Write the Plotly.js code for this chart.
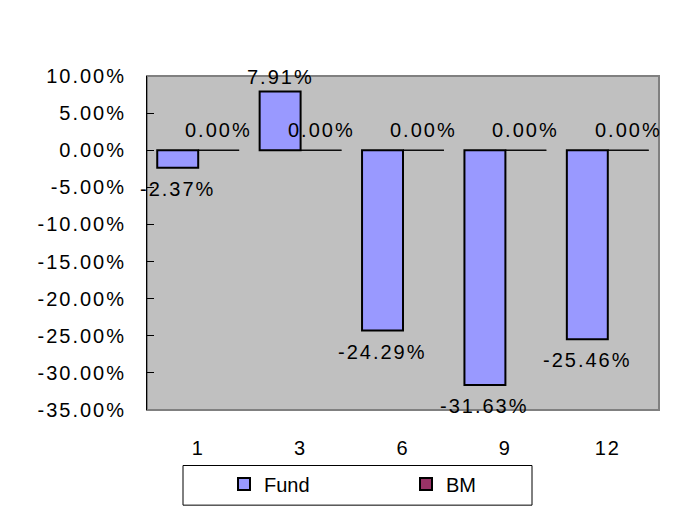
<!DOCTYPE html>
<html>
<head>
<meta charset="utf-8">
<script src="https://cdn.plot.ly/plotly-3.0.1.min.js"></script>
<style>
  html, body { margin: 0; padding: 0; background: #fff; }
  #chart { width: 674px; height: 516px; outline: 1px solid #000; outline-offset: -1px; }
  #chart svg text { letter-spacing: 2px; }
  #chart svg .legend text { letter-spacing: 0px; }
  #chart svg .legend .legendpoints path { stroke-width: 2px !important; stroke: #000 !important; }
</style>
</head>
<body>
<div id="chart"></div>
<script>
const categories = ['1', '3', '6', '9', '12'];
const fundValues = [-2.37, 7.91, -24.29, -31.63, -25.46];
const bmValues = [0, 0, 0, 0, 0];
const seriesNames = ['Fund', 'BM'];
const yTickValues = [-35, -30, -25, -20, -15, -10, -5, 0, 5, 10];

const fmt = v => v.toFixed(2) + '%';
const FONT = 'Liberation Sans, Arial, sans-serif';
const FS = 20;

const traces = [
  {
    type: 'bar', name: seriesNames[0], x: categories, y: fundValues,
    marker: { color: '#9999FF', line: { color: '#000', width: 2 } },
    hoverinfo: 'skip'
  },
  {
    type: 'bar', name: seriesNames[1], x: categories, y: bmValues,
    marker: { color: '#993366', line: { color: '#000', width: 1 } },
    hoverinfo: 'skip'
  }
];

// data labels placed through the axis scales (bar centres at index -/+ 0.2)
function labelFor(v, i, offset) {
  const pos = v >= 0;
  return {
    xref: 'x', yref: 'y', x: i + offset, y: v,
    text: fmt(v), showarrow: false,
    font: { family: FONT, size: FS, color: '#000' },
    xanchor: 'center', yanchor: pos ? 'bottom' : 'top',
    yshift: v > 0 ? 2 : (v === 0 ? 7 : -8)
  };
}
const annotations = [
  ...fundValues.map((v, i) => labelFor(v, i, -0.2)),
  ...bmValues.map((v, i) => labelFor(v, i, 0.2))
];

const W = 674, H = 516, L = 147, R = 15, T = 76, B = 103;
const yMin = -35, yMax = 10;
const plotW = W - L - R, plotH = H - T - B;

const layout = {
  width: W, height: H,
  margin: { l: L, r: R, t: T, b: B, pad: 0 },
  paper_bgcolor: '#fff', plot_bgcolor: '#C0C0C0',
  font: { family: FONT, size: FS, color: '#000' },
  barmode: 'group', bargap: 0.2, bargroupgap: 0,
  showlegend: true,
  xaxis: {
    type: 'category', categoryorder: 'array', categoryarray: categories,
    range: [-0.5, 4.5], showgrid: false, zeroline: false, showline: false,
    ticks: '', tickfont: { family: FONT, size: FS }, ticklabelstandoff: 24
  },
  xaxis2: {
    overlaying: 'x', anchor: 'free', position: (0 - yMin) / (yMax - yMin), side: 'top',
    range: [-0.5, 4.5], showgrid: false, zeroline: false,
    showline: true, linecolor: '#000', linewidth: 1,
    ticks: 'outside', ticklen: 6, tickcolor: '#000', tickwidth: 1,
    tickvals: [0.5, 1.5, 2.5, 3.5, 4.5], showticklabels: false
  },
  yaxis: {
    range: [yMin, yMax], tickmode: 'array', tickvals: yTickValues,
    ticktext: yTickValues.map(fmt),
    showgrid: false, zeroline: false,
    showline: true, linecolor: '#000', linewidth: 1,
    ticks: 'inside', ticklen: 7, tickcolor: '#000',
    tickfont: { family: FONT, size: FS }, ticklabelstandoff: 16
  },
  legend: {
    orientation: 'h', x: (224 - L) / plotW, xanchor: 'left', y: (T + plotH - 468) / plotH, yanchor: 'top',
    borderwidth: 0, bgcolor: 'rgba(0,0,0,0)',
    font: { family: FONT, size: FS }, entrywidth: 137
  },
  annotations: annotations,
  shapes: [
    { type: 'rect', xref: 'paper', yref: 'paper', x0: 0, x1: 1, y0: 0, y1: 1,
      line: { color: '#808080', width: 2 }, layer: 'below' },
    { type: 'rect', xref: 'paper', yref: 'paper',
      x0: (183 - L) / plotW, x1: (532 - L) / plotW,
      y0: (T + plotH - 509) / plotH, y1: (T + plotH - 469) / plotH,
      line: { color: '#000', width: 1 }, fillcolor: 'rgba(0,0,0,0)' }
  ]
};

Plotly.newPlot('chart', traces, layout, { staticPlot: true, displayModeBar: false });
</script>
</body>
</html>
